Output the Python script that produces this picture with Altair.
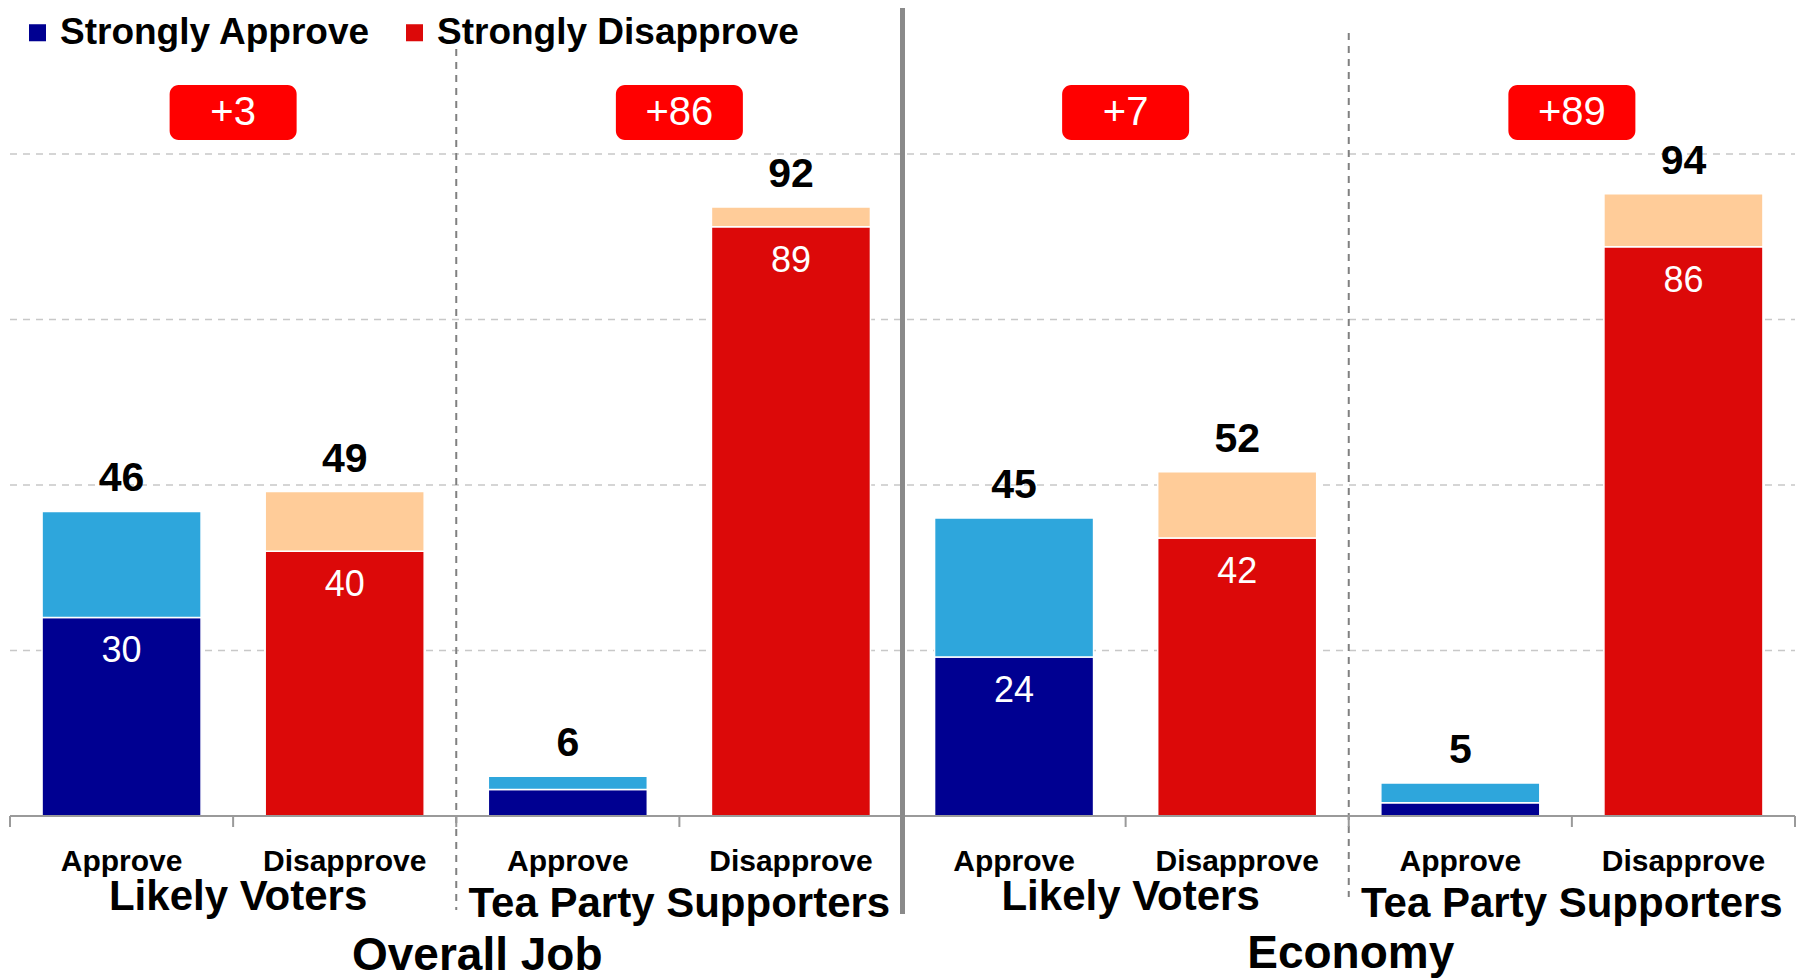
import altair as alt
import pandas as pd

# ---------------- data ----------------
TOPICS = ["Overall Job", "Economy"]
GROUPS = ["Likely Voters", "Tea Party Supporters"]
RESPONSES = ["Approve", "Disapprove"]
TOTAL = [46, 49, 6, 92, 45, 52, 5, 94]
STRONG = [30, 40, 4, 89, 24, 42, 2, 86]
GRID_VALUES = [25, 50, 75, 100]
SEGMENTS = ["Strongly Approve", "Somewhat Approve", "Strongly Disapprove", "Somewhat Disapprove"]
SEG_COLORS = ["#000091", "#2ea6dc", "#dc0909", "#ffcc99"]
LEGEND_ITEMS = ["Strongly Approve", "Strongly Disapprove"]

FONT = "Liberation Sans"
N = len(TOTAL)

# ---------------- derived tables ----------------
bar_rows, bar_labels, resp_rows = [], [], []
i = 0
for t in TOPICS:
    for g in GROUPS:
        for r in RESPONSES:
            xc = i + 0.5
            bar_rows.append(dict(xc=xc, y0=0, y1=STRONG[i], seg="Strongly " + r))
            bar_rows.append(dict(xc=xc, y0=STRONG[i], y1=TOTAL[i], seg="Somewhat " + r))
            bar_labels.append(dict(xc=xc, total=TOTAL[i], strong=STRONG[i]))
            resp_rows.append(dict(xc=xc, label=r))
            i += 1
bars = pd.DataFrame(bar_rows)
blabels = pd.DataFrame(bar_labels)
inner = blabels[blabels["strong"] >= 10]
resp = pd.DataFrame(resp_rows)

grp_rows, badge_rows = [], []
j = 0
for t in TOPICS:
    for g in GROUPS:
        grp_rows.append(dict(xc=2 * j + 1, label=g))
        badge_rows.append(dict(xc=2 * j + 1, text="+%d" % (TOTAL[2 * j + 1] - TOTAL[2 * j])))
        j += 1
grp = pd.DataFrame(grp_rows)
badges = pd.DataFrame(badge_rows)
topics = pd.DataFrame(dict(xc=[4 * k + 2 for k in range(len(TOPICS))], label=TOPICS))

grid = pd.DataFrame(dict(y=GRID_VALUES, xs=0, xe=N))
ticks = pd.DataFrame(dict(x=list(range(N + 1)), y=0))
baseline = pd.DataFrame(dict(xs=[0], xe=[N], y=[0]))

X_SCALE = alt.Scale(domain=[0, N], range=[-3, 1792], nice=False, zero=False)
Y_SCALE = alt.Scale(domain=[0, 100], range=[808, 146], nice=False, zero=False)

def X(f):
    return alt.X(f, type="quantitative", scale=X_SCALE, axis=None)

def Y(f):
    return alt.Y(f, type="quantitative", scale=Y_SCALE, axis=None)

# ---------------- layers ----------------
grid_layer = alt.Chart(grid).mark_rule(color="#c8c8c8", strokeWidth=1.5, strokeDash=[7, 6]).encode(
    x=X("xs"), x2="xe", y=Y("y"))

def vline(xpos, top, bottom, **kw):
    df = pd.DataFrame(dict(x=[xpos]))
    return alt.Chart(df).mark_rule(**kw).encode(
        x=X("x"), y=alt.value(top), y2=alt.value(bottom))

sep1 = vline(2, 41, 902, color="#808080", strokeWidth=2, strokeDash=[7, 6])
sep2 = vline(6, 25, 889, color="#808080", strokeWidth=2, strokeDash=[7, 6])
mid = vline(4, -3, 906, color="#8a8a8a", strokeWidth=5)

bar_layer = alt.Chart(bars).mark_bar(size=159, stroke="white", strokeWidth=1.5).encode(
    x=X("xc"), y=Y("y0"), y2="y1",
    color=alt.Color("seg:N", scale=alt.Scale(domain=SEGMENTS, range=SEG_COLORS),
                    legend=alt.Legend(values=LEGEND_ITEMS, orient="none", legendX=11, legendY=6,
                                      direction="horizontal", title=None, symbolType="square",
                                      symbolSize=290, symbolStrokeWidth=0, labelFontSize=37,
                                      labelFont=FONT, labelFontWeight="bold", labelColor="black",
                                      labelOffset=4, columnPadding=25, padding=0, labelLimit=0)))

base_layer = alt.Chart(baseline).mark_rule(color="#9a9a9a", strokeWidth=2).encode(
    x=X("xs"), x2="xe", y=Y("y"))
tick_layer = alt.Chart(ticks).mark_rule(color="#9a9a9a", strokeWidth=2).encode(
    x=X("x"), y=Y("y"), y2=alt.value(819))

total_text = alt.Chart(blabels).mark_text(font=FONT, fontSize=41, fontWeight="bold", color="black",
                                          baseline="middle", dy=-32).encode(
    x=X("xc"), y=Y("total"), text="total:Q")
inner_text = alt.Chart(inner).mark_text(font=FONT, fontSize=36, color="white",
                                        baseline="middle", dy=34).encode(
    x=X("xc"), y=Y("strong"), text="strong:Q")

resp_text = alt.Chart(resp).mark_text(font=FONT, fontSize=30, fontWeight="bold", color="black",
                                      baseline="middle").encode(
    x=X("xc"), y=alt.value(854), text="label:N")

grp_lv = alt.Chart(grp[grp["label"] == GROUPS[0]]).mark_text(
    font=FONT, fontSize=42, fontWeight="bold", color="black", baseline="middle", dx=5).encode(
    x=X("xc"), y=alt.value(889), text="label:N")
grp_tp = alt.Chart(grp[grp["label"] == GROUPS[1]]).mark_text(
    font=FONT, fontSize=42, fontWeight="bold", color="black", baseline="middle").encode(
    x=X("xc"), y=alt.value(896), text="label:N")

topic_job = alt.Chart(topics[topics["label"] == TOPICS[0]]).mark_text(
    font=FONT, fontSize=46, fontWeight="bold", color="black", baseline="middle", dx=21).encode(
    x=X("xc"), y=alt.value(948), text="label:N")
topic_eco = alt.Chart(topics[topics["label"] == TOPICS[1]]).mark_text(
    font=FONT, fontSize=46, fontWeight="bold", color="black", baseline="middle", dx=2).encode(
    x=X("xc"), y=alt.value(946), text="label:N")

badge_box = alt.Chart(badges).mark_bar(size=127, color="#ff0000", cornerRadius=9).encode(
    x=X("xc"), y=alt.value(77), y2=alt.value(132))
badge_text = alt.Chart(badges).mark_text(font=FONT, fontSize=40, color="white", baseline="middle").encode(
    x=X("xc"), y=alt.value(105), text="text:N")

chart = alt.layer(
    grid_layer, sep1, sep2, bar_layer, base_layer, tick_layer, mid,
    total_text, inner_text, resp_text, grp_lv, grp_tp, topic_job, topic_eco,
    badge_box, badge_text,
).properties(
    width=1796, height=972, padding=0,
    autosize=alt.AutoSizeParams(type="none"),
).configure_view(stroke=None)

chart.save("out.html", embed_options={"renderer": "svg", "actions": False})
